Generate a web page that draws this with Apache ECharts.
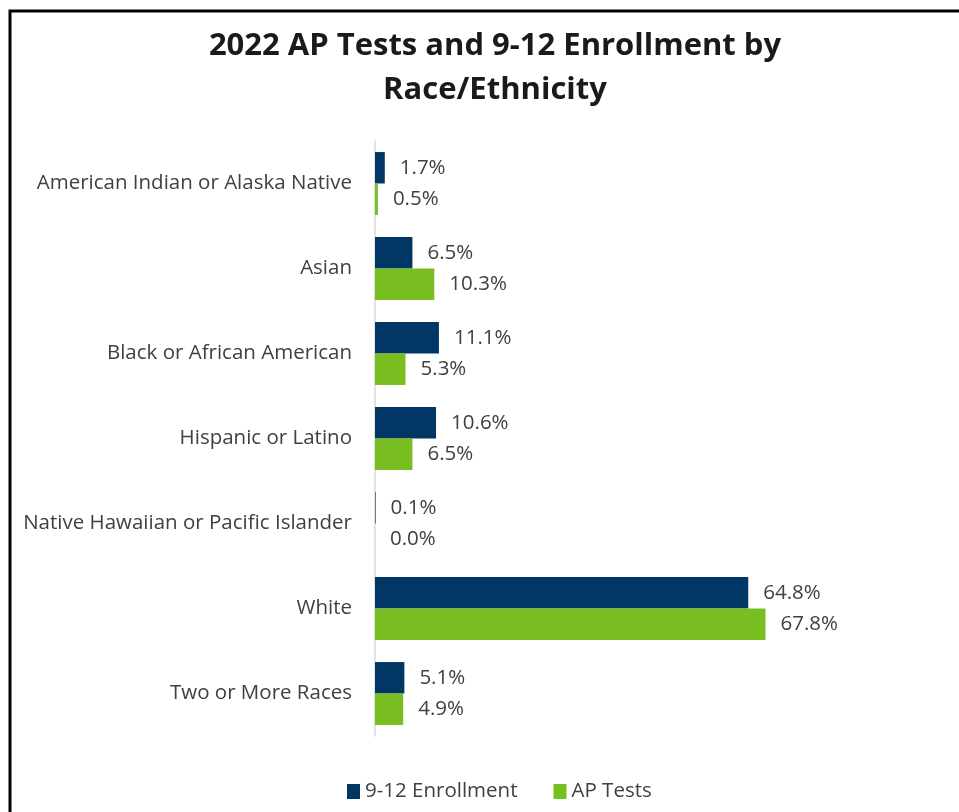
<!DOCTYPE html>
<html><head><meta charset="utf-8">
<script src="https://cdn.jsdelivr.net/npm/echarts@6/dist/echarts.min.js"></script>
<style>html,body{margin:0;padding:0;background:#fff}#c{width:959px;height:812px}</style>
</head><body><div id="c"></div>
<script>
const categories = ["American Indian or Alaska Native","Asian","Black or African American","Hispanic or Latino","Native Hawaiian or Pacific Islander","White","Two or More Races"];
const enrollment = [1.7, 6.5, 11.1, 10.6, 0.1, 64.8, 5.1];
const apTests = [0.5, 10.3, 5.3, 6.5, 0.0, 67.8, 4.9];
const seriesNames = ["9-12 Enrollment", "AP Tests"];
const titleLines = ["2022 AP Tests and 9-12 Enrollment by", "Race/Ethnicity"];

const chart = echarts.init(document.getElementById('c'));
const font = "'Open Sans', 'Liberation Sans', Arial, sans-serif";
const lbl = {show:true, position:'right', distance:15, color:'#404040', fontSize:20.5, fontFamily:font, formatter: p => p.value.toFixed(1) + '%'};
chart.setOption({
  animation:false,
  title:{text:titleLines.join('\n'), left:490, textAlign:'center', top:19,
    textStyle:{fontSize:31, fontWeight:'bold', color:'#1a1a1a', fontFamily:font, lineHeight:44}},
  legend:{top:776, left:342, itemWidth:13, itemHeight:15, itemGap:36,
    textStyle:{fontSize:20.5, color:'#404040', fontFamily:font}, icon:'rect'},
  grid:{left:375, top:141, width:576, height:595, containLabel:false},
  xAxis:{type:'value', min:0, max:100, show:false},
  yAxis:{type:'category', data:categories, inverse:true,
    axisLine:{show:true, lineStyle:{color:'#d9d9d9', width:1.5}}, axisTick:{show:false},
    axisLabel:{fontSize:20.5, color:'#404040', fontFamily:font, margin:23}},
  series:[
    {name:seriesNames[0], type:'bar', data:enrollment, itemStyle:{color:'#003764'}, barGap:'0%', barCategoryGap:'26%', label:lbl},
    {name:seriesNames[1], type:'bar', data:apTests, itemStyle:{color:'#78BE20'}, label:lbl}
  ],
  graphic:[{type:'polyline', shape:{points:[[10,812],[10,11],[959,11]]}, style:{stroke:'#000', lineWidth:3, fill:null}}]
});
</script></body></html>
